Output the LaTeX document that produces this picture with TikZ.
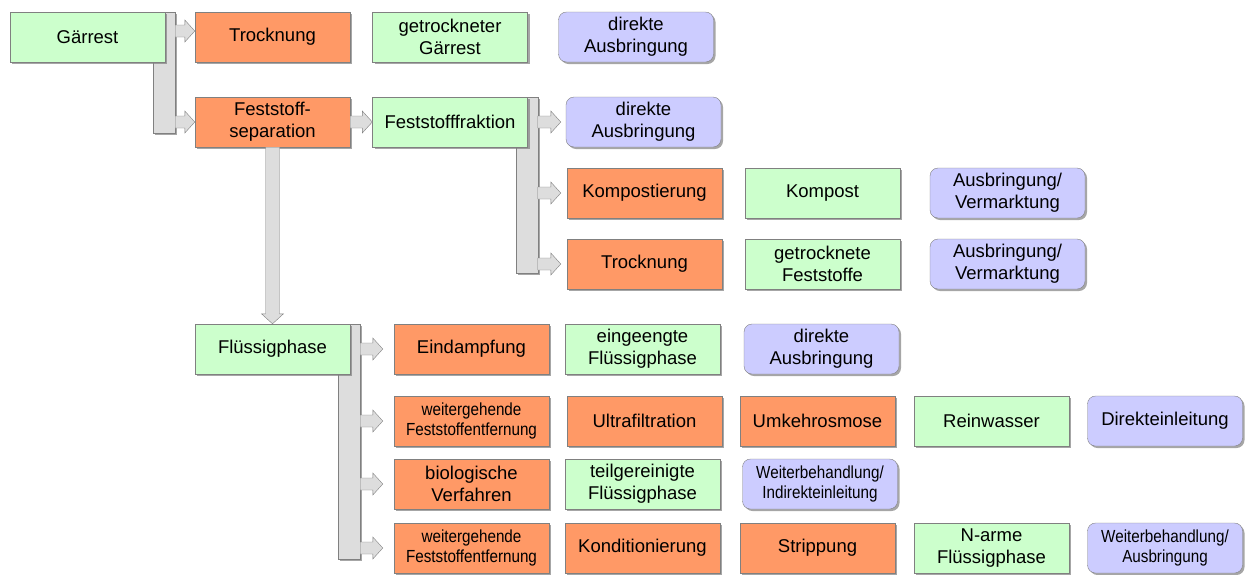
\documentclass[tikz,border=0pt]{standalone}
\usepackage{fontspec}
\setmainfont{Liberation Sans}
\newfontfamily\narrowfont[FakeStretch=0.87]{Liberation Sans}
\usetikzlibrary{calc,shadows,backgrounds}
\definecolor{stoffgreen}{HTML}{CCFFCC}
\definecolor{prozessorange}{HTML}{FF9966}
\definecolor{zielblue}{HTML}{CCCCFF}
\definecolor{bargray}{HTML}{DDDDDD}

\begin{document}
\begin{tikzpicture}[x=1pt, y=-1pt, font=\fontsize{18.5}{22}\selectfont]

        % Setup the styles for the boxes and arrows
        \tikzset{box/.style={draw=gray,
                             minimum width=155pt,
                             minimum height=50pt,
                             inner sep=1pt,
                             align=center,
                             drop shadow={shadow xshift=2pt, shadow yshift=-2pt, fill=gray, opacity=0.7}},
                 stoff/.style={box, fill=stoffgreen},
                 prozess/.style={box, fill=prozessorange},
                 ziel/.style={box, fill=zielblue, rounded corners=8pt},
                 narrow/.style={font=\narrowfont\fontsize{17.5}{20.5}\selectfont},
                 bar/.style={draw=gray, fill=bargray,
                             drop shadow={shadow xshift=2pt, shadow yshift=-2pt, fill=gray, opacity=0.7}},
                 harrow/.style={draw=gray, fill=bargray,
                    to path={let \p1=(\tikztostart), \p2=(\tikztotarget) in
                      (\x1,\y2+6pt) -- (\x2-10pt-#1,\y2+6pt) -- (\x2-10pt-#1,\y2+11pt) -- (\x2-#1,\y2)
                      -- (\x2-10pt-#1,\y2-11pt) -- (\x2-10pt-#1,\y2-6pt) -- (\x1,\y2-6pt) -- cycle}},
                 harrow/.default=0pt,
                 varrow/.style={draw=gray, fill=bargray,
                    to path={let \p1=(\tikztostart), \p2=(\tikztotarget) in
                      (\x2-7pt,\y1) -- (\x2-7pt,\y2+10pt) -- (\x2-11pt,\y2+10pt) -- (\x2,\y2)
                      -- (\x2+11pt,\y2+10pt) -- (\x2+7pt,\y2+10pt) -- (\x2+7pt,\y1) -- cycle}}}

        \useasboundingbox (0,0) rectangle (1258,574);

        % Gaerrest and solid path
        \node[stoff]   at (87.5, 37)   (gr)  {Gärrest};
        \node[prozess] at (272.5, 37)  (tr1) {Trocknung};
        \node[stoff]   at (450, 37)    (gtg) {getrockneter\\Gärrest};
        \node[ziel]    at (636, 37)    (da1) {direkte\\Ausbringung};

        \node[prozess] at (272.5, 122) (fs)  {Feststoff-\\separation};
        \node[stoff]   at (450, 122)   (ff)  {Feststofffraktion};
        \node[ziel]    at (643.5, 122) (da2) {direkte\\Ausbringung};

        \node[prozess] at (644.5, 193) (kom) {Kompostierung};
        \node[stoff]   at (822.5, 193) (kpt) {Kompost};
        \node[ziel]    at (1007.5, 193) (av1) {Ausbringung/\\Vermarktung};

        \node[prozess] at (644.5, 264) (tr2) {Trocknung};
        \node[stoff]   at (822.5, 264) (gfs) {getrocknete\\Feststoffe};
        \node[ziel]    at (1007.5, 264) (av2) {Ausbringung/\\Vermarktung};

        % Liquid path
        \node[stoff]   at (272.5, 349) (fl)  {Flüssigphase};
        \node[prozess] at (471.5, 349) (ein) {Eindampfung};
        \node[stoff]   at (642.5, 349) (efp) {eingeengte\\Flüssigphase};
        \node[ziel]    at (821.5, 349) (da3) {direkte\\Ausbringung};

        \node[prozess, narrow] at (471.5, 421) (wf1) {weitergehende\\Feststoffentfernung};
        \node[prozess] at (644.5, 421) (uf)  {Ultrafiltration};
        \node[prozess] at (817.5, 421) (uo)  {Umkehrosmose};
        \node[stoff]   at (991.5, 421) (rw)  {Reinwasser};
        \node[ziel]    at (1165, 421)  (de)  {Direkteinleitung};

        \node[prozess] at (471.5, 484) (bio) {biologische\\Verfahren};
        \node[stoff]   at (642.5, 484) (tfp) {teilgereinigte\\Flüssigphase};
        \node[ziel, narrow] at (820, 484) (wi) {Weiterbehandlung/\\Indirekteinleitung};

        \node[prozess, narrow] at (471.5, 548) (wf2) {weitergehende\\Feststoffentfernung};
        \node[prozess] at (642.5, 548) (kon) {Konditionierung};
        \node[prozess] at (817.5, 548) (str) {Strippung};
        \node[stoff]   at (991.5, 548) (nfp) {N-arme\\Flüssigphase};
        \node[ziel, narrow] at (1165, 548) (wa) {Weiterbehandlung/\\Ausbringung};

        % Distribution bars behind the boxes
        \coordinate (b1) at ($(gr.east)+(10,0)$);
        \coordinate (b2) at ($(ff.east)+(10,0)$);
        \coordinate (b3) at ($(fl.east)+(10,0)$);
        \begin{pgfonlayer}{background}
            \draw[bar] ($(gr.north east)+(-12,0)$) rectangle ($(b1 |- fs.west)+(0,11)$);
            \draw[bar] ($(ff.north east)+(-12,0)$) rectangle ($(b2 |- tr2.west)+(0,9)$);
            \draw[bar] ($(fl.north east)+(-12,0)$) rectangle ($(b3 |- wf2.west)+(0,11)$);
        \end{pgfonlayer}

        % Connect the boxes with arrows
        \draw[harrow] (b1 |- tr1.west) to ($(tr1.west)+(0,-6)$);
        \draw[harrow] (b1 |- fs.west)  to (fs.west);
        \draw[harrow] (fs.east)        to (ff.west);
        \draw[harrow=5pt] (b2 |- da2.west) to (da2.west);
        \draw[harrow=6pt] (b2 |- kom.west) to (kom.west);
        \draw[harrow=6pt] (b2 |- tr2.west) to (tr2.west);
        \draw[varrow] (fs.south) to (fl.north);
        \draw[harrow=11pt] (b3 |- ein.west) to (ein.west);
        \draw[harrow=11pt] (b3 |- wf1.west) to (wf1.west);
        \draw[harrow=11pt] (b3 |- bio.west) to (bio.west);
        \draw[harrow=11pt] (b3 |- wf2.west) to (wf2.west);
\end{tikzpicture}
\end{document}
